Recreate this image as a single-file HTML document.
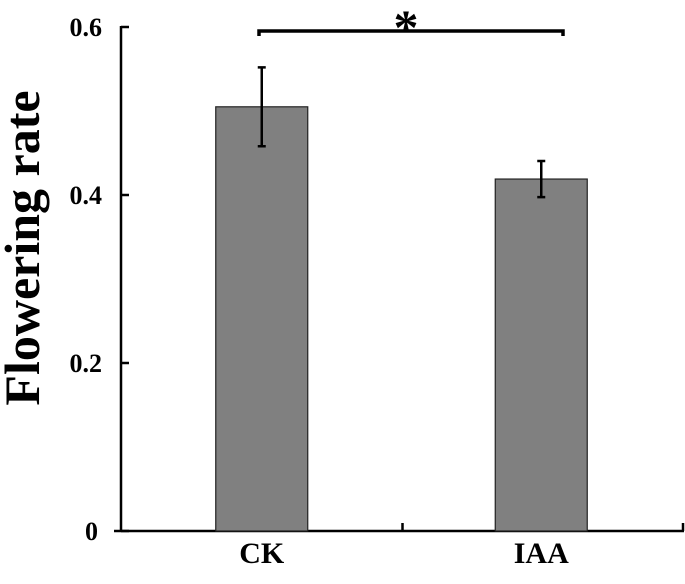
<!DOCTYPE html>
<html><head><meta charset="utf-8"><style>
body{margin:0;background:#fff;}
svg{display:block;}
text{font-family:"Liberation Serif","Times New Roman",serif;font-weight:bold;}
</style></head><body>
<svg id="chart" width="685" height="584" viewBox="0 0 685 584">
<g id="axes"></g><g id="bars"></g>
<text font-family="Liberation Serif, serif" transform="translate(39,248) rotate(-90)" text-anchor="middle" font-size="50">Flowering rate</text>
<path d="M259,36 V31 H563 V36" fill="none" stroke="#000" stroke-width="3.5"/>
<text font-family="Liberation Serif, serif" x="406" y="44" text-anchor="middle" font-size="50">*</text>
</svg>
<script>
const categories=["CK","IAA"];
const values=[0.505,0.419];
const errors=[0.047,0.0215];
const yTicks=[0,0.2,0.4,0.6];
const yTickLabels=["0","0.2","0.4","0.6"];
const NS="http://www.w3.org/2000/svg";
const y0=531,pxPerUnit=840,xl=121,xr=684,catW=(xr-xl)/categories.length,barW=92;
const y=v=>y0-v*pxPerUnit;
const xc=i=>xl+catW*(i+0.5)-(i===0?0:2);
function mk(tag,attrs,parent){const e=document.createElementNS(NS,tag);for(const k in attrs)e.setAttribute(k,attrs[k]);parent.appendChild(e);return e;}
const ax=document.getElementById('axes'),bg=document.getElementById('bars');
let e=mk('line',{x1:xl,y1:y(0.6)-1,x2:xl,y2:y0+1,stroke:'#000','stroke-width':2.5},ax);

e=mk('line',{x1:114,y1:y0,x2:xr,y2:y0,stroke:'#000','stroke-width':2.5},ax);

yTicks.forEach((t,i)=>{
 const tk=mk('line',{x1:xl,y1:y(t),x2:xl+8,y2:y(t),stroke:'#000','stroke-width':2.5},ax);
 
 const lb=mk('text',{x:t===0?98:102,y:y(t)+9,'text-anchor':'end','font-size':26,'font-family':'Liberation Serif, serif'},ax);
 lb.textContent=yTickLabels[i];
 
});
for(let i=1;i<=categories.length;i++){
 const xx=xl+catW*i-(i===categories.length?1:0);
 const tk=mk('line',{x1:xx,y1:y0,x2:xx,y2:y0-8,stroke:'#000','stroke-width':2.5},ax);
 
}
categories.forEach((c,i)=>{
 const cx=xc(i);
 const b=mk('rect',{x:cx-barW/2,y:y(values[i]),width:barW,height:y0-y(values[i]),fill:'#808080',stroke:'#222','stroke-width':1.2},bg);
 
 const t=y(values[i]+errors[i]),bt=y(values[i]-errors[i]);
 const eb=mk('path',{d:`M${cx},${t}V${bt}M${cx-4},${t}H${cx+4}M${cx-4},${bt}H${cx+4}`,stroke:'#000','stroke-width':2.5,fill:'none'},bg);
 
 const lb=mk('text',{x:cx,y:563,'text-anchor':'middle','font-size':30,'font-family':'Liberation Serif, serif'},bg);
 lb.textContent=c;
 
});
</script>
</body></html>
